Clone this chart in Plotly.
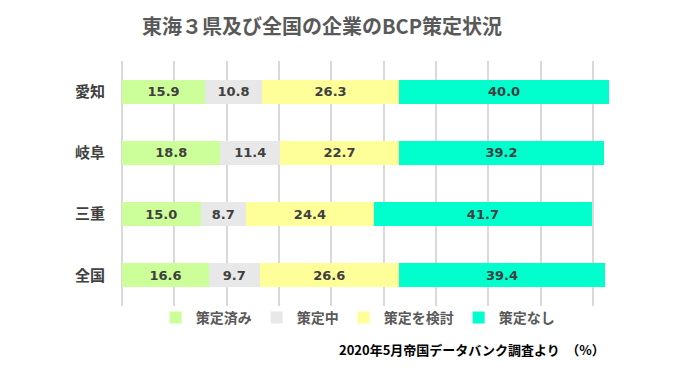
import plotly.graph_objects as go

categories = ["愛知", "岐阜", "三重", "全国"]
series_names = ["策定済み", "策定中", "策定を検討", "策定なし"]
done = [15.9, 18.8, 15.0, 16.6]
inprog = [10.8, 11.4, 8.7, 9.7]
consider = [26.3, 22.7, 24.4, 26.6]
none_ = [40.0, 39.2, 41.7, 39.4]
values = [done, inprog, consider, none_]
colors = ["#CCFF99", "#E8E8E8", "#FFFF99", "#00FFCC"]

FONT = "Noto Sans CJK JP"
NUMFONT = "DejaVu Sans"

fig = go.Figure()
for name, vals, col in zip(series_names, values, colors):
    fig.add_trace(go.Bar(
        y=categories, x=vals, name=name, orientation="h",
        marker=dict(color=col, line=dict(width=0)),
        text=[f"{v:.1f}" for v in vals], textposition="inside",
        insidetextanchor="middle", textangle=0,
        textfont=dict(family=NUMFONT, size=13, color="#404040", weight="bold"),
        hoverinfo="skip",
    ))

fig.update_layout(
    width=700, height=387,
    barmode="stack", bargap=0.61,
    plot_bgcolor="white", paper_bgcolor="white",
    margin=dict(l=122, r=86, t=61, b=81, autoexpand=False),
    font=dict(family=FONT, color="#595959"),
    title=dict(text="<b>東海３県及び全国の企業のBCP策定状況</b>",
               x=0.46, xanchor="center", y=0.93, yanchor="middle",
               font=dict(family=FONT, size=20, color="#595959")),
    legend=dict(orientation="h", x=0.479, xanchor="center", y=-0.049, yanchor="middle",
                bgcolor="rgba(0,0,0,0)",
                font=dict(family=FONT, size=14, color="#595959", weight="bold"),
                itemwidth=30, traceorder="normal", itemclick=False),
    uniformtext=dict(mode="show", minsize=10),
    showlegend=True,
)
fig.update_xaxes(range=[0, 94], dtick=10, showticklabels=False, showgrid=True,
                 gridcolor="#D9D9D9", gridwidth=1.5, zeroline=True,
                 zerolinecolor="#D9D9D9", zerolinewidth=1.5, fixedrange=True,
                 automargin=False)
fig.update_yaxes(autorange="reversed", ticks="", ticklabelstandoff=16,
                 tickfont=dict(family=FONT, size=15, color="#404040", weight="bold"),
                 fixedrange=True, automargin=False)

fig.add_annotation(text="<b>2020年5月帝国データバンク調査より　（%）</b>",
                   xref="paper", yref="paper", x=0.986, xanchor="right",
                   y=-0.178, yanchor="middle", showarrow=False,
                   font=dict(family=FONT, size=13, color="#000000"))

fig.write_html("out.html", config={"displayModeBar": False},
               post_script="document.body.style.margin='0';")
